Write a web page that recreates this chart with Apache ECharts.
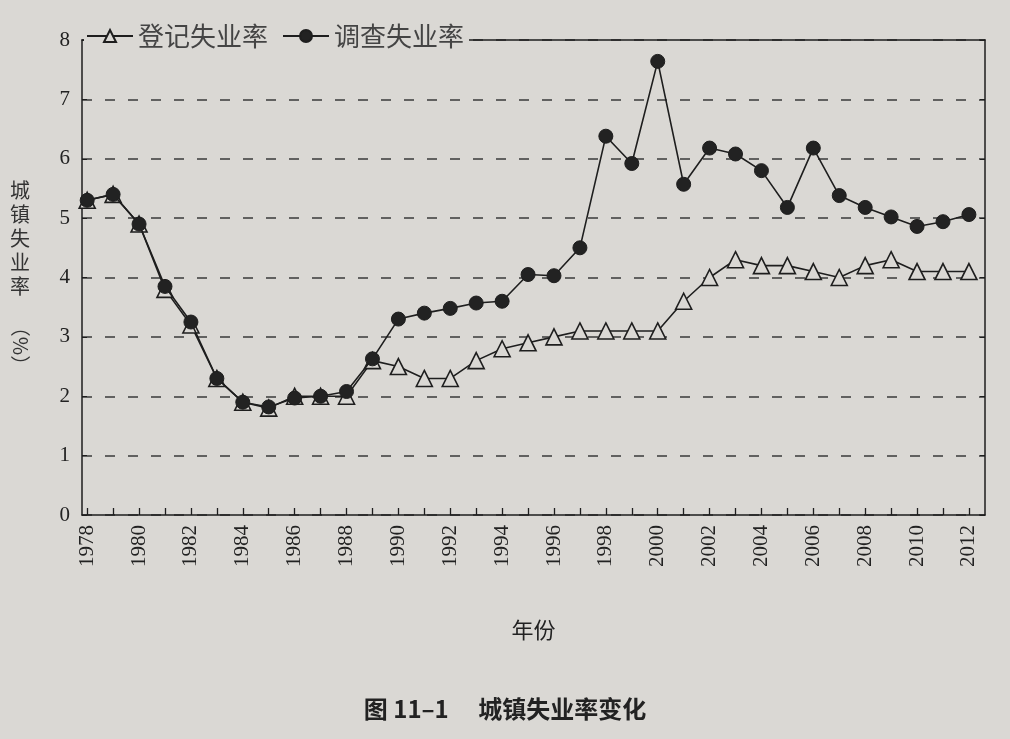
<!DOCTYPE html>
<html>
<head>
<meta charset="utf-8">
<script src="https://cdn.jsdelivr.net/npm/echarts@6/dist/echarts.min.js"></script>
<style>
html,body{margin:0;padding:0;background:#dad8d4;}
#c{width:1010px;height:739px;}
</style>
</head>
<body>
<div id="c"></div>
<script>
const years = [1978,1979,1980,1981,1982,1983,1984,1985,1986,1987,1988,1989,1990,1991,1992,1993,1994,1995,1996,1997,1998,1999,2000,2001,2002,2003,2004,2005,2006,2007,2008,2009,2010,2011,2012];
const registered = [5.3,5.4,4.9,3.8,3.2,2.3,1.9,1.8,2.0,2.0,2.0,2.6,2.5,2.3,2.3,2.6,2.8,2.9,3.0,3.1,3.1,3.1,3.1,3.6,4.0,4.3,4.2,4.2,4.1,4.0,4.2,4.3,4.1,4.1,4.1];
const survey = [5.3,5.4,4.9,3.85,3.25,2.3,1.9,1.82,1.97,2.0,2.08,2.63,3.3,3.4,3.48,3.57,3.6,4.05,4.03,4.5,6.38,5.92,7.64,5.57,6.18,6.08,5.8,5.18,6.18,5.38,5.18,5.02,4.86,4.94,5.06];
const yTicks = [0,1,2,3,4,5,6,7,8];
const xLabelYears = [1978,1980,1982,1984,1986,1988,1990,1992,1994,1996,1998,2000,2002,2004,2006,2008,2010,2012];
const seriesNames = ['登记失业率','调查失业率'];

const BG = '#dad8d4';
const INK = '#1e1e1e';
const serif = "'Liberation Serif','DejaVu Serif',serif";
const cjk = "'Noto Sans CJK SC','Noto Sans',sans-serif";

const chart = echarts.init(document.getElementById('c'));
chart.setOption({
  backgroundColor: BG,
  animation: false,
  grid: {left: 82, right: 25, top: 40, bottom: 224},
  legend: {
    left: 84, top: 21,
    data: seriesNames,
    itemWidth: 46, itemHeight: 15, itemGap: 14,
    backgroundColor: BG,
    padding: [2, 5, 2, 2],
    textStyle: {fontFamily: cjk, fontSize: 26, color: '#444'},
    z: 10
  },
  xAxis: [{
    type: 'value', min: 1977.8, max: 2012.62,
    axisLine: {show: true, lineStyle: {color: INK, width: 1.5}},
    axisTick: {show: true, inside: true, length: 7, customValues: years, lineStyle: {color: INK, width: 1.3}},
    axisLabel: {show: true, customValues: xLabelYears, rotate: 90, margin: 10,
      fontFamily: serif, fontSize: 21, color: '#222', formatter: v => String(v)},
    splitLine: {show: false},
    name: '年份', nameLocation: 'middle', nameGap: 104,
    nameTextStyle: {fontFamily: cjk, fontSize: 22, color: '#222'}
  }, {
    type: 'value', position: 'top', min: 1977.8, max: 2012.62,
    axisLine: {show: true, onZero: false, lineStyle: {color: INK, width: 1.5}},
    axisTick: {show: false}, axisLabel: {show: false}, splitLine: {show: false}
  }],
  yAxis: [{
    type: 'value', min: 0, max: 8, interval: 1,
    axisLine: {show: true, lineStyle: {color: INK, width: 1.5}},
    axisTick: {show: true, inside: true, length: 5, lineStyle: {color: INK}},
    axisLabel: {fontFamily: serif, fontSize: 21, color: '#222', margin: 12, formatter: v => String(v)},
    splitLine: {show: true, lineStyle: {color: '#3a3a3a', width: 1.5, type: [10, 13]}}
  }, {
    type: 'value', position: 'right', min: 0, max: 8, interval: 1,
    axisLine: {show: true, onZero: false, lineStyle: {color: INK, width: 1.5}},
    axisTick: {show: true, inside: true, length: 5, lineStyle: {color: INK}},
    axisLabel: {show: false}, splitLine: {show: false}
  }],
  series: [{
    name: seriesNames[0], type: 'line',
    data: years.map((y, i) => [y, registered[i]]),
    symbol: 'triangle', symbolSize: 16,
    lineStyle: {color: INK, width: 1.6},
    itemStyle: {color: BG, borderColor: INK, borderWidth: 1.6},
    z: 3
  }, {
    name: seriesNames[1], type: 'line',
    data: years.map((y, i) => [y, survey[i]]),
    symbol: 'circle', symbolSize: 14,
    lineStyle: {color: INK, width: 1.6},
    itemStyle: {color: '#222', borderColor: INK, borderWidth: 1},
    z: 4
  }],
  graphic: [{
    type: 'text', x: 20, y: 238,
    style: {text: '城\n镇\n失\n业\n率', fontFamily: cjk, fontSize: 20, lineHeight: 24,
      fill: '#333', align: 'center', verticalAlign: 'middle'}
  }, {
    type: 'text', x: 21, y: 346, rotation: -Math.PI / 2,
    style: {text: '（%）', fontFamily: cjk, fontSize: 20, fill: '#333', align: 'center', verticalAlign: 'middle'}
  }, {
    type: 'text', left: 'center', top: 697,
    style: {text: '图 11–1　 城镇失业率变化', fontFamily: cjk, fontSize: 24, fontWeight: 'bold', fill: '#222'}
  }]
});
</script>
</body>
</html>
